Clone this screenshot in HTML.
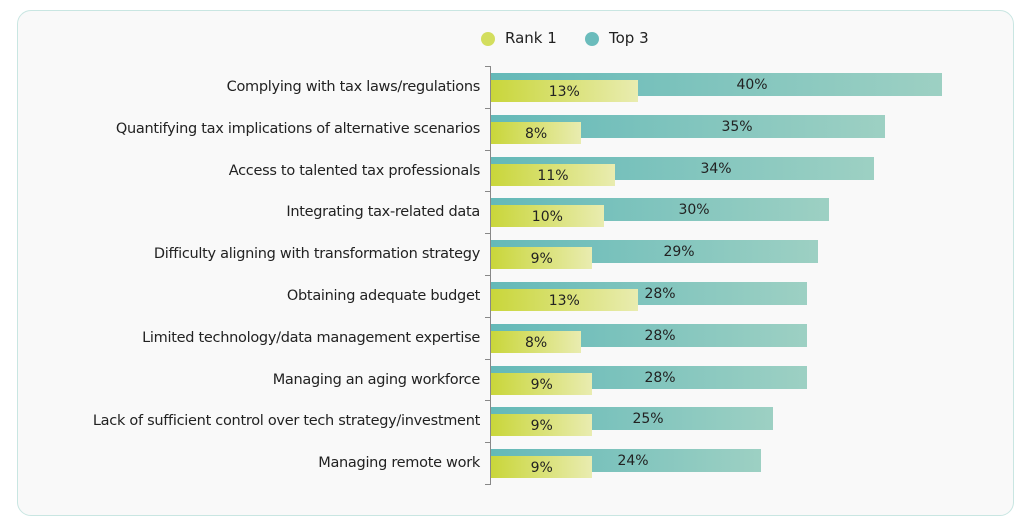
<!DOCTYPE html><html><head><style>
body{margin:0;width:1024px;height:522px;background:#fff;font-family:"DejaVu Sans","Liberation Sans",sans-serif;position:relative;overflow:hidden}
.card{position:absolute;left:17px;top:10px;width:995px;height:504px;border:1px solid #c9e6e2;border-radius:14px;background:#f9f9f9}
.lab{position:absolute;right:544px;font-size:14.5px;letter-spacing:-0.29px;color:#222;white-space:nowrap}
.t3{position:absolute;left:491px;height:23px;background:linear-gradient(to right,#64b9b8,#9dd0c3)}
.r1{position:absolute;left:491px;height:22px;background:linear-gradient(to right,#c9d63a,#e9ecb0)}
.v{position:absolute;font-size:14px;color:#222;transform:translateX(-50%)}
.axis{position:absolute;left:490px;top:66px;width:1px;height:418px;background:#888}
.tk{position:absolute;left:485px;width:6px;height:1px;background:#888}
.dot{position:absolute;width:14px;height:14px;border-radius:50%;top:32px}
</style></head><body><div class="card"></div>
<div class="dot" style="left:481px;background:#d3de5e"></div><div style="position:absolute;left:505px;top:29px;font-size:15px;color:#222">Rank 1</div>
<div class="dot" style="left:585px;background:#6bbcbc"></div><div style="position:absolute;left:609px;top:29px;font-size:15px;color:#222">Top 3</div>
<div class="axis"></div>
<div id="c"></div>
<script>
var d=[["Complying with tax laws/regulations",13,40,752],["Quantifying tax implications of alternative scenarios",8,35,737],["Access to talented tax professionals",11,34,716],["Integrating tax-related data",10,30,694],["Difficulty aligning with transformation strategy",9,29,679],["Obtaining adequate budget",13,28,660],["Limited technology/data management expertise",8,28,660],["Managing an aging workforce",9,28,660],["Lack of sufficient control over tech strategy/investment",9,25,648],["Managing remote work",9,24,633]];
var h="",s=11.27;
for(var i=0;i<=10;i++)h+='<div class="tk" style="top:'+Math.round(66+41.8*i)+'px"></div>';
d.forEach(function(r,i){var t=66+41.8*i;
h+='<div class="lab" style="top:'+(t+13)+'px">'+r[0]+'</div>';
h+='<div class="t3" style="top:'+(t+7)+'px;width:'+r[2]*s+'px"></div>';
h+='<div class="r1" style="top:'+(t+14)+'px;width:'+r[1]*s+'px"></div>';
h+='<div class="v" style="top:'+(t+11)+'px;left:'+r[3]+'px">'+r[2]+'%</div>';
h+='<div class="v" style="top:'+(t+18)+'px;left:'+(491+r[1]*s/2)+'px">'+r[1]+'%</div>';});
document.getElementById("c").innerHTML=h;
</script></body></html>
